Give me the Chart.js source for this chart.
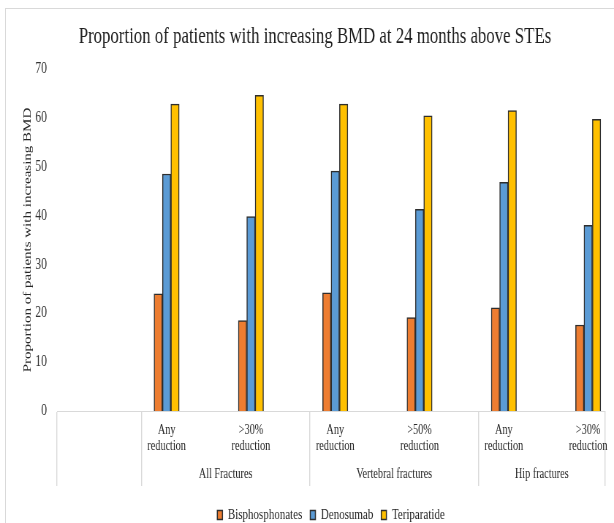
<!DOCTYPE html>
<html>
<head>
<meta charset="utf-8">
<script src="https://cdn.jsdelivr.net/npm/chart.js@4.4.1/dist/chart.umd.min.js"></script>
<style>
  html, body { margin: 0; padding: 0; background: #fff; overflow: hidden; }
  #wrap { position: relative; width: 614px; height: 523px; overflow: hidden; }
  #frame { position: absolute; left: 5px; top: 8px; width: 700px; height: 600px;
           border: 1px solid #d9d9d9; box-sizing: border-box; }
  #c { position: absolute; left: 0; top: 0; }
</style>
</head>
<body>
<div id="wrap">
  <div id="frame"></div>
  <canvas id="c" width="840" height="523" style="width:614px;height:523px"></canvas>
</div>
<script>
// ---- data ----
const categories = [
  ['Any', 'reduction'], ['>30%', 'reduction'],
  ['Any', 'reduction'], ['>50%', 'reduction'],
  ['Any', 'reduction'], ['>30%', 'reduction']
];
const groups = ['All Fractures', 'Vertebral fractures', 'Hip fractures'];
const seriesNames = ['Bisphosphonates', 'Denosumab', 'Teriparatide'];
const bisphosphonates = [24.0, 18.5, 24.2, 19.1, 21.1, 17.6];
const denosumab       = [48.5, 39.8, 49.1, 41.3, 46.8, 38.0];
const teriparatide    = [62.8, 64.6, 62.8, 60.4, 61.5, 59.7];
const yTicks = [0, 10, 20, 30, 40, 50, 60, 70];

// ---- styling / axis layout ----
const FONT = "'Liberation Serif', 'Times New Roman', serif";
const colors = ['#ED7D31', '#5B9BD5', '#FFC000'];
const xMin = -0.3, xMax = 6.2;
const groupEdges = [-0.3, 0.7, 2.7, 4.7, 6.2];   // category-box separators below the axis

// x-axis ticks: separators, category labels, and group labels one level lower
const xTicks = [];
groupEdges.forEach(v => xTicks.push({ value: v, kind: 'edge', label: '' }));
categories.forEach((c, i) => xTicks.push({ value: i + 1, kind: 'cat', label: c }));
groups.forEach((g, i) => xTicks.push({
  value: (groupEdges[i + 1] + groupEdges[i + 2]) / 2, kind: 'group', label: ['', g]
}));
xTicks.sort((a, b) => a.value - b.value);
const kindAt = i => (xTicks[i] ? xTicks[i].kind : 'edge');

const toPoints = arr => arr.map((v, i) => ({ x: i + 1, y: v }));
const seriesValues = [bisphosphonates, denosumab, teriparatide];

const datasets = seriesNames.map((name, k) => ({
  label: name,
  data: toPoints(seriesValues[k]),
  backgroundColor: colors[k],
  borderColor: '#2e2e2e',
  borderWidth: 1.5,
  barThickness: 11.5
}));

new Chart(document.getElementById('c'), {
  type: 'bar',
  data: { datasets },
  options: {
    responsive: false,
    devicePixelRatio: 1,
    animation: false,
    layout: { padding: { top: 22.8, left: 34.1, right: 12.3, bottom: -9.5 } },
    plugins: {
      tooltip: { enabled: false },
      title: {
        display: true,
        text: 'Proportion of patients with increasing BMD at 24 months above STEs',
        color: '#1f1f1f',
        font: { family: FONT, size: 23, weight: 'normal' },
        padding: { top: 0, bottom: 18.6 }
      },
      legend: {
        position: 'bottom',
        fullSize: false,
        labels: {
          boxWidth: 7, boxHeight: 9, padding: 11,
          color: '#262626',
          font: { family: FONT, size: 15 }
        }
      }
    },
    scales: {
      x: {
        type: 'linear',
        min: xMin, max: xMax,
        offset: false,
        afterBuildTicks: s => { s.ticks = xTicks.map(t => ({ value: t.value })); },
        afterFit: s => { s.height = 85.5; },
        grid: {
          offset: false,
          drawOnChartArea: false,
          drawTicks: true,
          tickLength: 75,
          lineWidth: 1.4,
          color: c => kindAt(c.index) === 'edge' ? '#d9d9d9' : 'rgba(0,0,0,0)'
        },
        border: { display: true, color: '#d9d9d9', width: 1 },
        ticks: {
          autoSkip: false, maxRotation: 0, minRotation: 0,
          padding: -64,
          color: '#262626',
          font: c => kindAt(c.index) === 'group'
            ? { family: FONT, size: 14, lineHeight: '34.67px' }
            : { family: FONT, size: 14, lineHeight: '16px' },
          callback: (v, i) => xTicks[i].label
        }
      },
      y: {
        min: 0, max: 70,
        afterBuildTicks: s => { s.ticks = yTicks.map(v => ({ value: v })); },
        afterFit: s => { s.width = 43.9; },
        grid: { display: false, drawTicks: false },
        border: { display: false },
        ticks: { padding: 13.7, color: '#333333', font: { family: FONT, size: 16 } },
        title: {
          display: true,
          text: 'Proportion of patients with increasing BMD',
          color: '#262626',
          font: { family: FONT, size: 15 },
          padding: { top: -4.8, bottom: 0 }
        }
      }
    }
  }
});
</script>
</body>
</html>
